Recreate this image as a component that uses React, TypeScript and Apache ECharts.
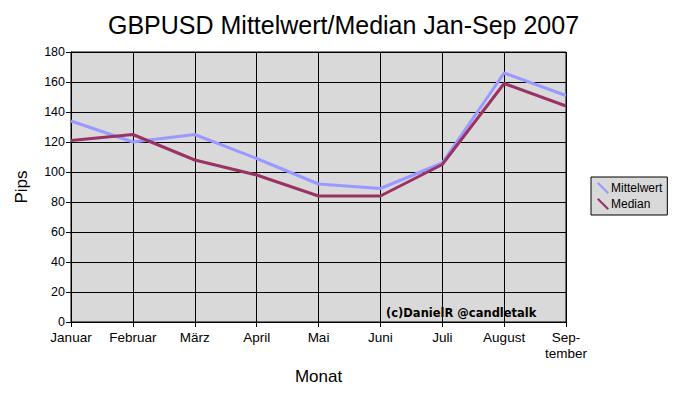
import React, { useEffect, useRef } from "react";
import * as echarts from "echarts";

const months = ["Januar", "Februar", "März", "April", "Mai", "Juni", "Juli", "August", "Sep-\ntember"];
const mittelwert = [134, 120, 125, 109, 92, 89, 106, 166, 151];
const median = [121, 125, 108, 98, 84, 84, 105, 159, 144];
const yTicks = { min: 0, max: 180, interval: 20 };

const FONT = "Liberation Sans, Arial, sans-serif";
const ICON = "path://M0,1.5 L1.5,0 L12,10.5 L10.5,12 Z";

export default function App() {
  const ref = useRef<HTMLDivElement>(null);
  useEffect(() => {
    if (!ref.current) return;
    const chart = echarts.init(ref.current, undefined, { renderer: "svg" });
    chart.setOption({
      animation: false,
      backgroundColor: "#ffffff",
      title: {
        text: "GBPUSD Mittelwert/Median Jan-Sep 2007",
        left: "center",
        top: 7,
        textStyle: { fontFamily: FONT, fontSize: 25, fontWeight: "normal", color: "#000" },
      },
      grid: {
        left: 71,
        top: 52,
        width: 495,
        height: 270,
        show: true,
        backgroundColor: "#d9d9d9",
        borderColor: "#000",
        borderWidth: 1,
      },
      legend: {
        orient: "vertical",
        left: 591,
        top: 177,
        backgroundColor: "#d9d9d9",
        borderColor: "#000",
        borderWidth: 1,
        borderRadius: 0,
        padding: [5, 5, 5, 6],
        itemGap: 4,
        itemWidth: 12,
        itemHeight: 12,
        textStyle: { fontFamily: FONT, fontSize: 12, color: "#000", padding: [0, 0, 0, -3] },
        data: [
          { name: "Mittelwert", icon: ICON },
          { name: "Median", icon: ICON },
        ],
      },
      xAxis: {
        type: "category",
        data: months,
        boundaryGap: false,
        name: "Monat",
        nameLocation: "middle",
        nameGap: 46,
        nameTextStyle: { fontFamily: FONT, fontSize: 17, color: "#000" },
        axisLine: { lineStyle: { color: "#000", width: 1 } },
        axisTick: { show: true, alignWithLabel: true, length: 5, lineStyle: { color: "#000" } },
        axisLabel: { fontFamily: FONT, fontSize: 13.5, color: "#000", margin: 7, interval: 0, lineHeight: 16 },
        splitLine: { show: true, lineStyle: { color: "#000", width: 1 } },
      },
      yAxis: {
        type: "value",
        min: yTicks.min,
        max: yTicks.max,
        interval: yTicks.interval,
        name: "Pips",
        nameLocation: "middle",
        nameGap: 41,
        nameRotate: 90,
        nameTextStyle: { fontFamily: FONT, fontSize: 17, color: "#000" },
        axisLine: { show: true, lineStyle: { color: "#000" } },
        axisTick: { show: true, length: 5, lineStyle: { color: "#000" } },
        axisLabel: { fontFamily: FONT, fontSize: 12.5, color: "#000", margin: 6 },
        splitLine: { show: true, lineStyle: { color: "#000", width: 1 } },
      },
      graphic: [
        {
          type: "text",
          left: 386,
          top: 307,
          style: {
            text: "(c)DanielR @candletalk",
            fontFamily: "DejaVu Sans, Verdana, sans-serif",
            fontWeight: "bold",
            fontSize: 11.5,
            fill: "#000",
          },
          z: 10,
        },
      ],
      series: [
        {
          name: "Mittelwert",
          type: "line",
          data: mittelwert,
          symbol: "none",
          lineStyle: { color: "#9999ff", width: 3 },
          itemStyle: { color: "#9999ff" },
        },
        {
          name: "Median",
          type: "line",
          data: median,
          symbol: "none",
          lineStyle: { color: "#993366", width: 3 },
          itemStyle: { color: "#993366" },
        },
      ],
    });
    return () => chart.dispose();
  }, []);
  return <div ref={ref} style={{ position: "fixed", left: 0, top: 0, width: 687, height: 397 }} />;
}
